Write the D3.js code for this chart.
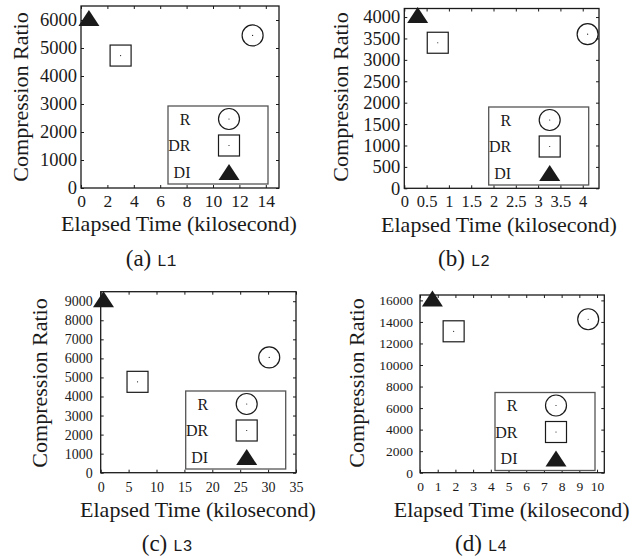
<!DOCTYPE html>
<html lang="en">

<head>
    <meta charset="UTF-8">
    <title>Compression Ratio vs Elapsed Time</title>
    <style>
        body {
            margin: 0;
            padding: 0;
            background: #fff;
        }

        svg {
            display: block;
        }
    </style>
</head>

<body>

    <svg width="642" height="559"></svg>

    <script src="https://d3js.org/d3.v7.min.js"></script>
    <script>
        // Series shown in every panel (legend order)
        const methods = ["R", "DR", "DI"];
        const panelNames = ["L1", "L2", "L3", "L4"];
        const panelLetters = ["a", "b", "c", "d"];

        // Elapsed time (kilosecond) and compression ratio, per panel, in method order
        const timeL1 = [13.0, 3.0, 0.6];
        const ratioL1 = [5450, 4730, 6000];
        const timeL2 = [4.11, 0.75, 0.3];
        const ratioL2 = [3600, 3400, 4000];
        const timeL3 = [30.2, 6.6, 0.5];
        const ratioL3 = [6050, 4770, 9000];
        const timeL4 = [9.5, 1.9, 0.7];
        const ratioL4 = [14250, 13130, 16000];

        // Axis domains and tick labels
        const xMaxes = [15, 4.365, 35, 10.41];
        const yMaxes = [6500, 4200, 9500, 16500];
        const xTicksL1 = [0, 2, 4, 6, 8, 10, 12, 14];
        const xTicksL2 = [0, 0.5, 1, 1.5, 2, 2.5, 3, 3.5, 4];
        const xTicksL3 = [0, 5, 10, 15, 20, 25, 30, 35];
        const xTicksL4 = [0, 1, 2, 3, 4, 5, 6, 7, 8, 9, 10];
        const yTicksL1 = [0, 1000, 2000, 3000, 4000, 5000, 6000];
        const yTicksL2 = [0, 500, 1000, 1500, 2000, 2500, 3000, 3500, 4000];
        const yTicksL3 = [0, 1000, 2000, 3000, 4000, 5000, 6000, 7000, 8000, 9000];
        const yTicksL4 = [0, 2000, 4000, 6000, 8000, 10000, 12000, 14000, 16000];

        const times = [timeL1, timeL2, timeL3, timeL4];
        const ratios = [ratioL1, ratioL2, ratioL3, ratioL4];
        const xTicks = [xTicksL1, xTicksL2, xTicksL3, xTicksL4];
        const yTicks = [yTicksL1, yTicksL2, yTicksL3, yTicksL4];

        // Page layout of each panel (pixels)
        const layout = [
            { l: 81, r: 279, t: 6, b: 188, leg: [168, 106], xt: [179, 231], yt: [20, 97], cap: [151, 266], xf: 17.5, yf: 18.5, xpad: 7, ypad: 4 },
            { l: 404.3, r: 599, t: 8.5, b: 188.3, leg: [488.7, 107], xt: [499, 231.5], yt: [340, 97], cap: [464, 266], xf: 16.5, yf: 18.5, xpad: 7, ypad: 4 },
            { l: 100.7, r: 296, t: 291.7, b: 472.7, leg: [185.7, 391], xt: [198, 517], yt: [39, 383], cap: [167, 551], xf: 14, yf: 14, xpad: 9, ypad: 8 },
            { l: 420, r: 604.3, t: 295, b: 472.7, leg: [495, 392.5], xt: [511.7, 517], yt: [356, 383], cap: [481, 551], xf: 13.5, yf: 13.5, xpad: 9, ypad: 7 }
        ];

        const svg = d3.select("svg");
        const serif = "'Liberation Serif', 'DejaVu Serif', serif";
        const ink = "#1a1a1a";

        // draw one marker of a method at (cx, cy)
        function marker(g, method, cx, cy) {
            if (method === "R") {
                g.append("circle").attr("cx", cx).attr("cy", cy).attr("r", 10.5)
                    .attr("fill", "none").attr("stroke", ink).attr("stroke-width", 1.2);
                g.append("circle").attr("cx", cx).attr("cy", cy).attr("r", 0.6).attr("fill", ink);
            } else if (method === "DR") {
                g.append("rect").attr("x", cx - 10.5).attr("y", cy - 10.5)
                    .attr("width", 21).attr("height", 21)
                    .attr("fill", "none").attr("stroke", ink).attr("stroke-width", 1.2);
                g.append("circle").attr("cx", cx).attr("cy", cy).attr("r", 0.6).attr("fill", ink);
            } else {
                g.append("path")
                    .attr("d", `M${cx},${cy - 10}L${cx + 10.5},${cy + 6}L${cx - 10.5},${cy + 6}Z`)
                    .attr("fill", ink);
            }
        }

        layout.forEach((p, i) => {
            const g = svg.append("g");

            const x = d3.scaleLinear().domain([0, xMaxes[i]]).range([p.l, p.r]);
            const y = d3.scaleLinear().domain([0, yMaxes[i]]).range([p.b, p.t]);
            const fmt = d => String(d);

            // axes with inward ticks, labels outside
            const bottom = g.append("g").attr("transform", `translate(0,${p.b})`)
                .call(d3.axisBottom(x).tickValues(xTicks[i]).tickFormat(fmt).tickSize(-3).tickPadding(p.xpad));
            const left = g.append("g").attr("transform", `translate(${p.l},0)`)
                .call(d3.axisLeft(y).tickValues(yTicks[i]).tickFormat(fmt).tickSize(-3).tickPadding(p.ypad));
            // mirrored ticks on top and right
            g.append("g").attr("transform", `translate(0,${p.t})`)
                .call(d3.axisTop(x).tickValues(xTicks[i]).tickFormat("").tickSize(-3));
            g.append("g").attr("transform", `translate(${p.r},0)`)
                .call(d3.axisRight(y).tickValues(yTicks[i]).tickFormat("").tickSize(-3));

            g.selectAll(".domain").remove();
            g.selectAll(".tick line").attr("stroke", ink).attr("stroke-width", 1);
            bottom.selectAll("text").attr("font-family", serif).attr("font-size", p.xf).attr("fill", ink);
            left.selectAll("text").attr("font-family", serif).attr("font-size", p.yf).attr("fill", ink);

            // plot border
            g.append("rect").attr("x", p.l).attr("y", p.t)
                .attr("width", p.r - p.l).attr("height", p.b - p.t)
                .attr("fill", "none").attr("stroke", ink).attr("stroke-width", 1.3);

            // points
            methods.forEach((m, k) => marker(g, m, x(times[i][k]), y(ratios[i][k])));

            // legend box
            const [lx, ly] = p.leg;
            const leg = g.append("g");
            leg.append("rect").attr("x", lx).attr("y", ly).attr("width", 100).attr("height", 78)
                .attr("fill", "#fff").attr("stroke", "#555").attr("stroke-width", 1.3);
            methods.forEach((m, k) => {
                const ry = ly + 13 + k * 26.5;
                leg.append("text").attr("x", lx + 22.5).attr("y", ry)
                    .attr("text-anchor", "end").attr("dominant-baseline", "central")
                    .attr("font-family", serif).attr("font-size", 16).attr("fill", ink)
                    .text(m);
                marker(leg, m, lx + 61, m === "DI" ? ry + 2 : ry);
            });

            // axis titles
            g.append("text").attr("x", p.xt[0]).attr("y", p.xt[1])
                .attr("text-anchor", "middle")
                .attr("font-family", serif).attr("font-size", 22).attr("fill", ink)
                .text("Elapsed Time (kilosecond)");
            g.append("text")
                .attr("transform", `translate(${p.yt[0]},${p.yt[1]}) rotate(-90)`)
                .attr("text-anchor", "middle").attr("dominant-baseline", "central")
                .attr("font-family", serif).attr("font-size", 22).attr("fill", ink)
                .text("Compression Ratio");

            // caption
            const cap = g.append("text").attr("x", p.cap[0]).attr("y", p.cap[1])
                .attr("text-anchor", "middle").attr("fill", ink);
            cap.append("tspan").attr("font-family", serif).attr("font-size", 23)
                .text(`(${panelLetters[i]}) `);
            cap.append("tspan").attr("font-family", "'Liberation Mono', 'DejaVu Sans Mono', monospace")
                .attr("font-size", 16).text(panelNames[i]);
        });
    </script>

</body>

</html>
